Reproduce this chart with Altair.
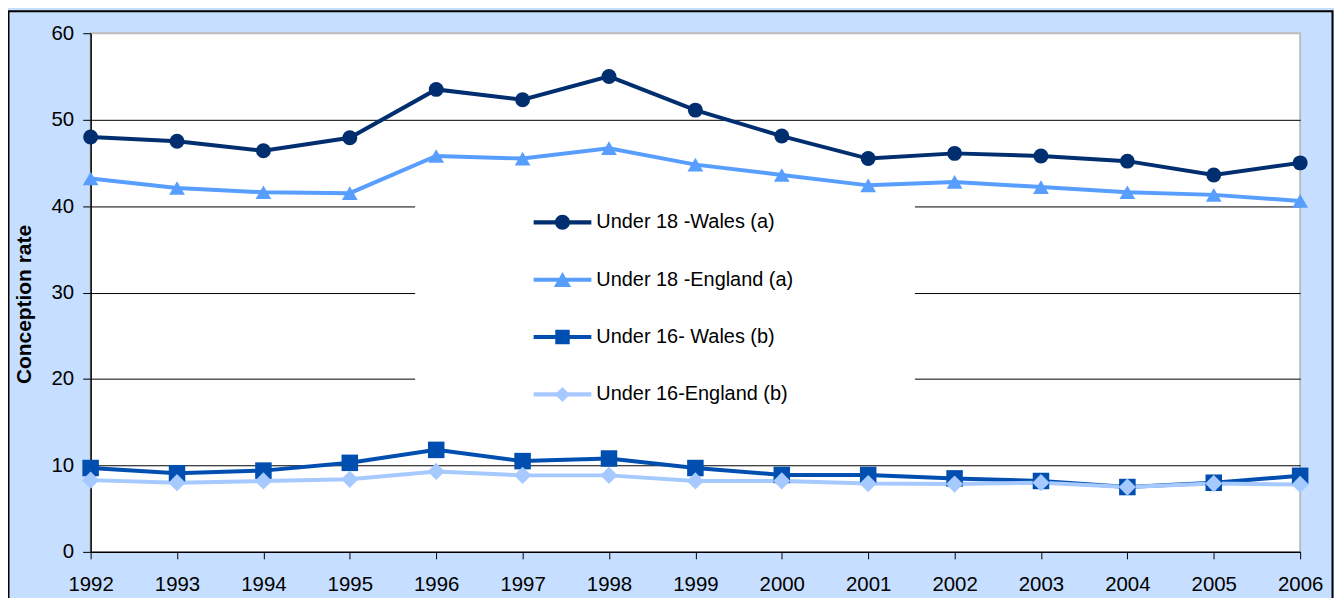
import altair as alt
import pandas as pd

years = list(range(1992, 2007))
u18_wales = [48.0, 47.5, 46.4, 47.9, 53.5, 52.3, 55.0, 51.1, 48.1, 45.5, 46.1, 45.8, 45.2, 43.6, 45.0]
u18_england = [43.2, 42.1, 41.6, 41.5, 45.8, 45.5, 46.7, 44.8, 43.6, 42.4, 42.8, 42.2, 41.6, 41.3, 40.6]
u16_wales = [9.7, 9.1, 9.4, 10.3, 11.8, 10.5, 10.8, 9.7, 8.9, 8.9, 8.5, 8.2, 7.5, 8.0, 8.8]
u16_england = [8.3, 8.0, 8.2, 8.4, 9.3, 8.85, 8.85, 8.2, 8.2, 7.9, 7.85, 8.0, 7.5, 7.9, 7.8]

series_names = ["Under 18 -Wales (a)", "Under 18 -England (a)", "Under 16- Wales (b)", "Under 16-England (b)"]
series_values = [u18_wales, u18_england, u16_wales, u16_england]
series_colors = ["#002E6E", "#589EFF", "#004FB0", "#A6C9FF"]
marker_shapes = ["circle", "triangle-up", "square", "diamond"]
marker_sizes = [225, 300, 190, 210]
y_ticks = [0, 10, 20, 30, 40, 50, 60]

# legend symbols: line segment + marker (unit coordinates)
bar = "M-1,-0.07H1V0.07H-1Z"
legend_paths = [
    bar + "M-0.26,0A0.26,0.26 0 1,1 0.26,0A0.26,0.26 0 1,1 -0.26,0Z",
    bar + "M0,-0.27L0.3,0.25L-0.3,0.25Z",
    bar + "M-0.25,-0.25H0.25V0.25H-0.25Z",
    bar + "M0,-0.26L0.26,0L0,0.26L-0.26,0Z",
]

rows = []
for name, vals in zip(series_names, series_values):
    for yr, v in zip(years, vals):
        rows.append({"year": yr, "rate": v, "series": name})
df = pd.DataFrame(rows)

FONT = "Liberation Sans"
W, H = 1215, 521

x_enc = alt.X(
    "year:Q",
    scale=alt.Scale(domain=[1992, 2006], nice=False, zero=False),
    axis=alt.Axis(
        values=years, format="d", title=None, grid=False,
        domainColor="black", domainWidth=1.5, tickColor="black", tickSize=7,
        labelFontSize=20.5, labelFont=FONT, labelColor="black", labelPadding=16,
        labelFlush=False, labelOverlap=False,
    ),
)
y_enc = alt.Y(
    "rate:Q",
    scale=alt.Scale(domain=[0, 60], nice=False),
    axis=alt.Axis(
        values=y_ticks, title="Conception rate",
        domainColor="black", domainWidth=1.5, tickColor="black", tickSize=8,
        labelFontSize=20.5, labelFont=FONT, labelColor="black", labelPadding=9,
        gridColor={"condition": {"test": "datum.value == 60", "value": "transparent"}, "value": "black"},
        gridWidth=1,
        titleFont=FONT, titleFontSize=21, titleFontWeight="bold", titleColor="black",
        titleX=-66, titleY=272, titleBaseline="middle", titleAlign="center", titleAngle=270,
    ),
)
color_enc = alt.Color("series:N", scale=alt.Scale(domain=series_names, range=series_colors), legend=None)

one = pd.DataFrame({"k": [0]})
frame = alt.Chart(one).mark_rect(fillOpacity=0, stroke="black", strokeWidth=2, clip=False).encode(
    x=alt.value(-82.5), x2=alt.value(1247.5), y=alt.value(-22), y2=alt.value(700)
)
legend_box = alt.Chart(one).mark_rect(fill="white").encode(
    x=alt.value(326), x2=alt.value(828), y=alt.value(164), y2=alt.value(382)
)

base = alt.Chart(df)
lines = base.mark_line(strokeWidth=4).encode(x=x_enc, y=y_enc, color=color_enc)
points = base.mark_point(filled=True, opacity=1).encode(
    x=x_enc, y=y_enc, color=color_enc,
    shape=alt.Shape("series:N", scale=alt.Scale(domain=series_names, range=marker_shapes), legend=None),
    size=alt.Size("series:O", scale=alt.Scale(domain=series_names, range=marker_sizes), legend=None),
)

leg = alt.Legend(
    orient="none", legendX=445, legendY=161, title=None, direction="vertical",
    symbolSize=3364, symbolStrokeWidth=0, symbolOpacity=1,
    labelFontSize=20, labelFont=FONT, labelColor="black", labelOffset=5,
    labelLimit=500, rowPadding=18.6, padding=0,
)
legend_layer = base.transform_calculate(key="datum.series").mark_point(filled=True, opacity=0).encode(
    x=x_enc, y=y_enc,
    color=alt.Color("key:N", scale=alt.Scale(domain=series_names, range=series_colors), legend=leg),
    shape=alt.Shape("key:N", scale=alt.Scale(domain=series_names, range=legend_paths), legend=leg),
)

chart = (
    alt.layer(frame, legend_box, lines, points, legend_layer)
    .resolve_scale(color="independent", shape="independent")
    .properties(
        width=W, height=H,
        background="#C6DEFF",
        padding={"left": 83, "top": 24, "right": 34, "bottom": 45},
        autosize=alt.AutoSizeParams(type="none"),
    )
    .configure_view(stroke="#BDBDBD", strokeWidth=2, fill="white")
)

chart.save("out.html", embed_options={"renderer": "svg", "actions": False})
